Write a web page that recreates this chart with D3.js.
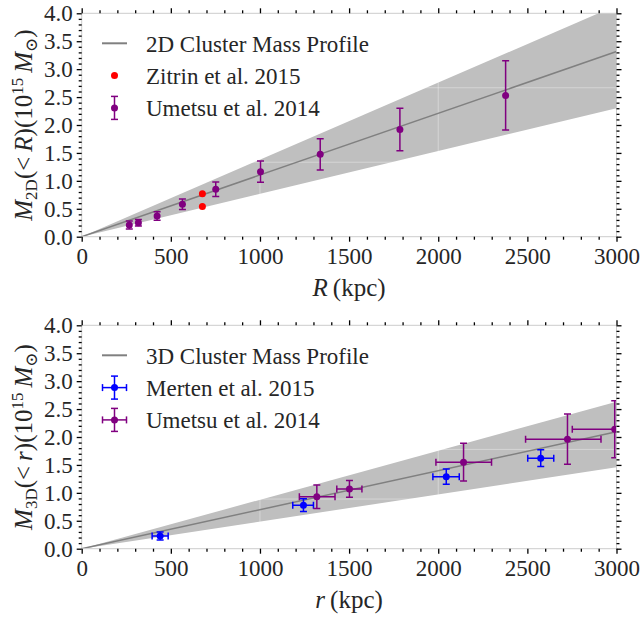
<!DOCTYPE html>
<html lang="en">
<head>
  <title>Cluster mass profiles</title>
  <meta charset="utf-8"/>
  <script src="https://d3js.org/d3.v7.min.js"></script>
  <style>
    body { margin: 0; background: #fff; }
    .txt { font-family: "Liberation Serif", "DejaVu Serif", serif; fill: #262626; }
    .tick text { font-family: "Liberation Serif", "DejaVu Serif", serif; font-size: 23px; fill: #262626; }
  </style>
</head>
<body>
<svg id="chart" width="641" height="619"></svg>

<script type="text/javascript">
  // profile bands (straight wedges from the origin)
  const profileR = [0, 3000];
  const profile2D = [0, 3.315];
  const profile2DLow = [0, 2.30];
  const profile2DHigh = [0, 4.14];
  const profile3D = [0, 2.095];
  const profile3DLow = [0, 1.457];
  const profile3DHigh = [0, 2.63];

  // top panel: projected mass
  const zitrinR = [677, 677];
  const zitrinM = [0.77, 0.54];
  const umetsu2DR = [267, 318, 423, 565, 752, 1003, 1338, 1785, 2378];
  const umetsu2DM = [0.21, 0.25, 0.37, 0.58, 0.85, 1.165, 1.476, 1.918, 2.53];
  const umetsu2DErr = [0.07, 0.06, 0.075, 0.095, 0.13, 0.19, 0.28, 0.38, 0.62];

  // bottom panel: 3D mass
  const mertenR = [440, 1244, 2045, 2575];
  const mertenM = [0.227, 0.78, 1.29, 1.62];
  const mertenRLo = [45, 60, 75, 73];
  const mertenRHi = [45, 56, 73, 73];
  const mertenErr = [0.07, 0.115, 0.135, 0.15];
  const umetsu3DR = [1319, 1502, 2142, 2725, 2990];
  const umetsu3DM = [0.93, 1.07, 1.55, 1.96, 2.14];
  const umetsu3DRLo = [98, 71, 155, 235, 238];
  const umetsu3DRHi = [102, 70, 157, 188, 240];
  const umetsu3DErr = [0.21, 0.15, 0.34, 0.45, 0.51];

  const xTicks = [0, 500, 1000, 1500, 2000, 2500, 3000];
  const yTicks = [0, 0.5, 1, 1.5, 2, 2.5, 3, 3.5, 4];
  const xGrid = [1000, 2000];
  const yGridTop = [4 / 3, 8 / 3];
  const yGridBottom = [8 / 9, 16 / 9];

  const svg = d3.select("#chart");
  const x = d3.scaleLinear().domain([0, 3000]).range([81.7, 616.5]);
  const purple = "#800080";

  function drawPanel(id, top, bottom, cfg) {
    const y = d3.scaleLinear().domain([0, 4]).range([bottom, top]);
    const g = svg.append("g");

    g.append("clipPath").attr("id", id)
      .append("rect")
      .attr("x", x(0)).attr("y", y(4))
      .attr("width", x(3000) - x(0)).attr("height", y(0) - y(4));

    const plot = g.append("g").attr("clip-path", `url(#${id})`);

    // shaded band
    const band = profileR.map((r, i) => ({r: r, lo: cfg.low[i], hi: cfg.high[i]}));
    plot.append("path")
      .datum(band)
      .attr("fill", "#bfbfbf")
      .attr("d", d3.area().x(d => x(d.r)).y0(d => y(d.lo)).y1(d => y(d.hi)));

    // faint grid
    plot.selectAll(".gx").data(xGrid).enter().append("line")
      .attr("x1", d => x(d)).attr("x2", d => x(d))
      .attr("y1", y(0)).attr("y2", y(4))
      .attr("stroke", "rgba(255,255,255,0.35)").attr("stroke-width", 1);
    plot.selectAll(".gy").data(cfg.yGrid).enter().append("line")
      .attr("x1", x(0)).attr("x2", x(3000))
      .attr("y1", d => y(d)).attr("y2", d => y(d))
      .attr("stroke", "rgba(255,255,255,0.35)").attr("stroke-width", 1);

    // profile line
    plot.append("path")
      .datum(profileR.map((r, i) => [r, cfg.mid[i]]))
      .attr("fill", "none")
      .attr("stroke", "#808080")
      .attr("stroke-width", 1.5)
      .attr("d", d3.line().x(d => x(d[0])).y(d => y(d[1])));

    // error bar series
    cfg.series.forEach(function (s) {
      s.r.forEach(function (r, i) {
        const cx = x(r), cy = y(s.m[i]);
        const eb = plot.append("g").attr("stroke", s.color).attr("stroke-width", 1.5);
        if (s.err) {
          const y1 = y(s.m[i] + s.err[i]), y2 = y(s.m[i] - s.err[i]);
          eb.append("line").attr("x1", cx).attr("x2", cx).attr("y1", y1).attr("y2", y2);
          eb.append("line").attr("x1", cx - 3.5).attr("x2", cx + 3.5).attr("y1", y1).attr("y2", y1);
          eb.append("line").attr("x1", cx - 3.5).attr("x2", cx + 3.5).attr("y1", y2).attr("y2", y2);
        }
        if (s.rLo) {
          const x1 = x(r - s.rLo[i]), x2 = x(r + s.rHi[i]);
          eb.append("line").attr("x1", x1).attr("x2", x2).attr("y1", cy).attr("y2", cy);
          eb.append("line").attr("x1", x1).attr("x2", x1).attr("y1", cy - 3.5).attr("y2", cy + 3.5);
          eb.append("line").attr("x1", x2).attr("x2", x2).attr("y1", cy - 3.5).attr("y2", cy + 3.5);
        }
        plot.append("circle").attr("cx", cx).attr("cy", cy).attr("r", 3.5).attr("fill", s.color);
      });
    });

    // spines
    g.append("rect")
      .attr("x", x(0)).attr("y", y(4))
      .attr("width", x(3000) - x(0)).attr("height", y(0) - y(4))
      .attr("fill", "none").attr("stroke", "#cccccc").attr("stroke-width", 1);

    // ticks, major and minor, on all four sides
    const xMinor = d3.range(0, 3001, 100).filter(v => v % 500 !== 0);
    const yMinor = d3.range(0, 41, 1).map(v => v / 10).filter(v => Math.round(v * 10) % 5 !== 0);
    function ticks(axis, transform, labels) {
      const a = g.append("g").attr("transform", transform).call(axis);
      a.select(".domain").remove();
      a.selectAll(".tick line").attr("stroke", "#000").attr("stroke-width", 1.3);
      if (!labels) a.selectAll(".tick text").remove();
      return a;
    }
    ticks(d3.axisBottom(x).tickValues(xTicks).tickSize(5).tickPadding(6).tickFormat(d3.format("d")),
      `translate(0,${y(0)})`, true);
    ticks(d3.axisBottom(x).tickValues(xMinor).tickSize(3).tickFormat(""), `translate(0,${y(0)})`, false);
    ticks(d3.axisTop(x).tickValues(xTicks).tickSize(5).tickFormat(""), `translate(0,${y(4)})`, false);
    ticks(d3.axisTop(x).tickValues(xMinor).tickSize(3).tickFormat(""), `translate(0,${y(4)})`, false);
    ticks(d3.axisLeft(y).tickValues(yTicks).tickSize(5).tickPadding(4).tickFormat(d3.format(".1f")),
      `translate(${x(0)},0)`, true);
    ticks(d3.axisLeft(y).tickValues(yMinor).tickSize(3).tickFormat(""), `translate(${x(0)},0)`, false);
    ticks(d3.axisRight(y).tickValues(yTicks).tickSize(5).tickFormat(""), `translate(${x(3000)},0)`, false);
    ticks(d3.axisRight(y).tickValues(yMinor).tickSize(3).tickFormat(""), `translate(${x(3000)},0)`, false);

    // x axis label
    const xl = g.append("text").attr("class", "txt")
      .attr("x", (x(0) + x(3000)) / 2).attr("y", bottom + 59)
      .attr("text-anchor", "middle").style("font-size", "25px");
    xl.append("tspan").style("font-style", "italic").text(cfg.xVar);
    xl.append("tspan").text("\u2009(kpc)");

    // y axis label
    const yl = g.append("text").attr("class", "txt")
      .attr("transform", `translate(32,${(top + bottom) / 2}) rotate(-90)`)
      .attr("text-anchor", "middle").style("font-size", "25px");
    yl.append("tspan").style("font-style", "italic").text("M");
    yl.append("tspan").attr("dy", 5).style("font-size", "17px").text(cfg.sub);
    yl.append("tspan").attr("dy", -5).text("(<\u2009");
    yl.append("tspan").style("font-style", "italic").text(cfg.xVar);
    yl.append("tspan").text(")(10");
    yl.append("tspan").attr("dy", -9).style("font-size", "17px").text("15");
    yl.append("tspan").attr("dy", 9).style("font-style", "italic").text("\u2009M");
    yl.append("tspan").attr("dy", 5).style("font-size", "17px").text("\u2299");
    yl.append("tspan").attr("dy", -5).text(")");

    // legend
    const lg = g.append("g");
    cfg.legend.forEach(function (item, i) {
      const ly = top + 30 + i * 32.3;
      if (item.type === "line") {
        lg.append("line").attr("x1", 102).attr("x2", 127).attr("y1", ly).attr("y2", ly)
          .attr("stroke", "#808080").attr("stroke-width", 2);
      } else {
        const e = lg.append("g").attr("stroke", item.color).attr("stroke-width", 1.5);
        if (item.type !== "dot") {
          e.append("line").attr("x1", 114.5).attr("x2", 114.5).attr("y1", ly - 11.5).attr("y2", ly + 11.5);
          e.append("line").attr("x1", 111).attr("x2", 118).attr("y1", ly - 11.5).attr("y2", ly - 11.5);
          e.append("line").attr("x1", 111).attr("x2", 118).attr("y1", ly + 11.5).attr("y2", ly + 11.5);
        }
        if (item.type === "xy") {
          e.append("line").attr("x1", 102.5).attr("x2", 126.5).attr("y1", ly).attr("y2", ly);
          e.append("line").attr("x1", 102.5).attr("x2", 102.5).attr("y1", ly - 3.5).attr("y2", ly + 3.5);
          e.append("line").attr("x1", 126.5).attr("x2", 126.5).attr("y1", ly - 3.5).attr("y2", ly + 3.5);
        }
        lg.append("circle").attr("cx", 114.5).attr("cy", ly).attr("r", 3.5).attr("fill", item.color);
      }
      lg.append("text").attr("class", "txt")
        .attr("x", 146).attr("y", ly).attr("dy", "0.36em")
        .style("font-size", "23px")
        .text(item.label);
    });
  }

  drawPanel("clipTop", 13.3, 236.7, {
    low: profile2DLow, high: profile2DHigh, mid: profile2D, yGrid: yGridTop,
    xVar: "R", sub: "2D",
    series: [
      {r: umetsu2DR, m: umetsu2DM, err: umetsu2DErr, color: purple},
      {r: zitrinR, m: zitrinM, color: "#ff0000"}
    ],
    legend: [
      {type: "line", label: "2D Cluster Mass Profile"},
      {type: "dot", color: "#ff0000", label: "Zitrin et al. 2015"},
      {type: "y", color: purple, label: "Umetsu et al. 2014"}
    ]
  });

  drawPanel("clipBottom", 325.3, 548.7, {
    low: profile3DLow, high: profile3DHigh, mid: profile3D, yGrid: yGridBottom,
    xVar: "r", sub: "3D",
    series: [
      {r: mertenR, m: mertenM, err: mertenErr, rLo: mertenRLo, rHi: mertenRHi, color: "#0000ff"},
      {r: umetsu3DR, m: umetsu3DM, err: umetsu3DErr, rLo: umetsu3DRLo, rHi: umetsu3DRHi, color: purple}
    ],
    legend: [
      {type: "line", label: "3D Cluster Mass Profile"},
      {type: "xy", color: "#0000ff", label: "Merten et al. 2015"},
      {type: "xy", color: purple, label: "Umetsu et al. 2014"}
    ]
  });
</script>
</body>
</html>
